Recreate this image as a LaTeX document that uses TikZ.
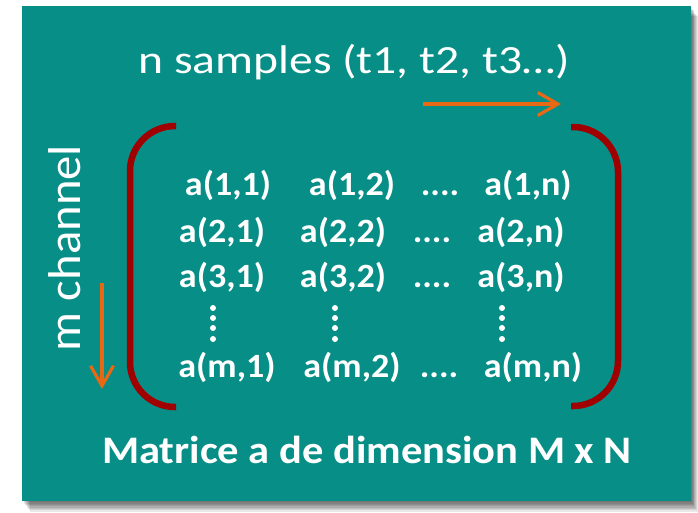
\documentclass[tikz,border=0pt]{standalone}
\usepackage{fontspec}
\setmainfont{Carlito}
\usetikzlibrary{arrows.meta}
\definecolor{tealbg}{RGB}{7,142,134}
\definecolor{brk}{RGB}{160,0,0}
\definecolor{arr}{RGB}{232,104,20}
\tikzset{
  cell/.style={text=white, font=\fontsize{34}{34}\selectfont\bfseries, inner sep=0pt, anchor=base, xscale=1.06},
  bracket/.style={draw=brk, line width=6.5pt, rounded corners=45pt},
  dirarrow/.style={draw=arr, line width=3.2pt, -{Straight Barb[length=20pt,width=23pt,line width=3.2pt]}},
  vdot/.style={fill=white, circle, inner sep=0pt, minimum size=6pt}
}
\begin{document}
\begin{tikzpicture}[x=1pt,y=-1pt]
\useasboundingbox (0,0) rectangle (698,512);
\fill[white] (0,0) rectangle (698,512);
% shadow
\foreach \i in {1,...,8} {
  \fill[black,opacity=0.09] (22+\i,6+\i*1.3) rectangle (691+\i*0.85,501+\i*1.35);
}
\fill[tealbg] (22,6) rectangle (691,501);

\node[text=white, font=\fontsize{40}{40}\selectfont, inner sep=0pt, anchor=base, xscale=1.19] (title) at (354,73) {n samples (t1, t2, t3…)};
\node[text=white, font=\fontsize{46}{46}\selectfont, inner sep=0pt, rotate=90, anchor=base, xscale=1.06] (mch) at (80,248) {m channel};

\coordinate (h1) at (423,104);
\coordinate (h2) at (561,104);
\draw[dirarrow] (h1) -- (h2);
\coordinate (v1) at (102,283);
\coordinate (v2) at (102,389);
\draw[dirarrow] (v1) -- (v2);

\coordinate (lt) at (176,126);
\coordinate (ltc) at (130,126);
\coordinate (lbc) at (130,407);
\coordinate (lb) at (176,407);
\draw[bracket] (lt) -- (ltc) -- (lbc) -- (lb);
\coordinate (rt) at (571,127);
\coordinate (rtc) at (618,127);
\coordinate (rbc) at (618,406);
\coordinate (rb) at (571,406);
\draw[bracket] (rt) -- (rtc) -- (rbc) -- (rb);

\node[cell] (a11) at (228,195) {a(1,1)};
\node[cell] (a12) at (352,195) {a(1,2)};
\node[cell] (d1) at (440,195) {....};
\node[cell] (a1n) at (528,195) {a(1,n)};
\node[cell] (a21) at (222,242) {a(2,1)};
\node[cell] (a22) at (343,242) {a(2,2)};
\node[cell] (d2) at (432,242) {....};
\node[cell] (a2n) at (521,242) {a(2,n)};
\node[cell] (a31) at (222,287) {a(3,1)};
\node[cell] (a32) at (343,287) {a(3,2)};
\node[cell] (d3) at (432,287) {....};
\node[cell] (a3n) at (521,287) {a(3,n)};
\node[cell] (am1) at (227,377) {a(m,1)};
\node[cell] (am2) at (352,377) {a(m,2)};
\node[cell] (dm) at (439,377) {....};
\node[cell] (amn) at (533,377) {a(m,n)};

\foreach \x/\n in {213/c1,335/c2,502/cn} {
  \foreach \y/\k in {308/1,318/2,328/3,339/4} {
    \node[vdot] (v\n\k) at (\x,\y) {};
  }
}

\node[text=white, font=\fontsize{39}{39}\selectfont\bfseries, inner sep=0pt, anchor=base, xscale=1.09] (cap) at (367,463) {Matrice a de dimension M x N};
\end{tikzpicture}
\end{document}
